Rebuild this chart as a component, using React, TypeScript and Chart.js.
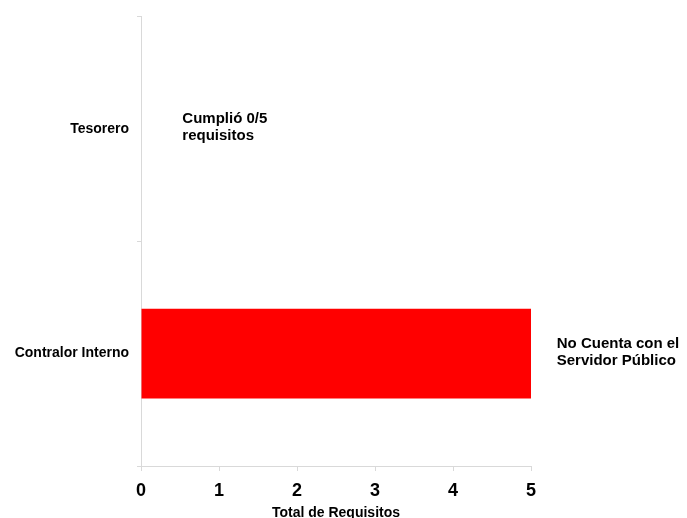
import React, { useEffect, useRef } from "react";
import { Chart, registerables } from "chart.js";

Chart.register(...registerables);

const categories = ["Tesorero", "Contralor Interno"];
const values = [0, 5];
const barColors = ["#FF0000", "#FF0000"];
const xTicks = [0, 1, 2, 3, 4, 5];
const xTitle = "Total de Requisitos";
const annotationLines = [["Cumplió 0/5", "requisitos"], ["No Cuenta con el", "Servidor Público"]];
const annotationX = [0.53, 5.33];

const FONT = "'Liberation Sans', Arial, sans-serif";

const annotationPlugin = {
  id: "annot",
  afterDatasetsDraw(chart: any) {
    const { ctx, scales } = chart;
    const xs = scales.x;
    const ys = scales.y;
    ctx.save();
    ctx.fillStyle = "#000";
    ctx.font = `bold 15px ${FONT}`;
    ctx.textAlign = "left";
    ctx.textBaseline = "middle";
    annotationLines.forEach((lines, i) => {
      const x = xs.getPixelForValue(annotationX[i]);
      const yc = ys.getPixelForValue(i) - 1;
      const lh = 17;
      lines.forEach((t, j) => {
        ctx.fillText(t, x, yc + (j - (lines.length - 1) / 2) * lh);
      });
    });
    ctx.restore();
  },
};

export default function App() {
  const ref = useRef<HTMLCanvasElement>(null);
  useEffect(() => {
    document.body.style.margin = "0";
    const chart = new Chart(ref.current!, {
      type: "bar",
      data: {
        labels: categories,
        datasets: [
          {
            data: values,
            backgroundColor: barColors,
            borderWidth: 0,
            barPercentage: 0.4,
            categoryPercentage: 1,
          },
        ],
      },
      options: {
        indexAxis: "y",
        animation: false,
        responsive: false,
        maintainAspectRatio: false,
        layout: { padding: { top: 13, right: 156, left: 0, bottom: -4 } },
        plugins: { legend: { display: false }, tooltip: { enabled: false } },
        scales: {
          x: {
            min: 0,
            max: 5,
            afterBuildTicks: (s: any) => {
              s.ticks = xTicks.map((v) => ({ value: v }));
            },
            afterFit: (s: any) => {
              s.height = 56;
            },
            grid: { drawOnChartArea: false, drawTicks: true, tickLength: 5, color: "#d9d9d9" },
            border: { color: "#d9d9d9" },
            ticks: { color: "#000", font: { family: FONT, size: 18, weight: "bold" }, padding: 9 },
            title: {
              display: true,
              text: xTitle,
              color: "#000",
              font: { family: FONT, size: 14, weight: "bold" },
              padding: { top: 0, bottom: 0 },
            },
          },
          y: {
            afterFit: (s: any) => {
              s.width = 141;
            },
            grid: { drawOnChartArea: false, drawTicks: true, tickLength: 4, color: "#d9d9d9", offset: true },
            border: { color: "#d9d9d9" },
            ticks: { color: "#000", font: { family: FONT, size: 14, weight: "bold" }, padding: 8 },
          },
        },
      },
      plugins: [annotationPlugin],
    });
    return () => chart.destroy();
  }, []);
  return <canvas ref={ref} width={687} height={518} style={{ display: "block" }} />;
}
